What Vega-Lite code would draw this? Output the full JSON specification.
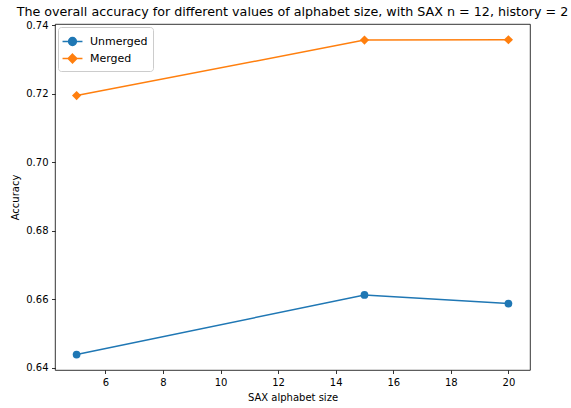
{
  "$schema": "https://vega.github.io/schema/vega-lite/v6.json",
  "width": 475,
  "height": 346,
  "autosize": {"type": "none"},
  "padding": {"left": 55, "top": 24, "right": 41, "bottom": 38},
  "title": {
    "text": "The overall accuracy for different values of alphabet size, with SAX n = 12, history = 2",
    "font": "DejaVu Sans",
    "fontSize": 12.7,
    "fontWeight": "normal",
    "color": "#000000",
    "anchor": "middle",
    "offset": 1
  },
  "data": {
    "values": [
      {"alphabet": 5, "accuracy": 0.6438, "series": "Unmerged"},
      {"alphabet": 15, "accuracy": 0.6612, "series": "Unmerged"},
      {"alphabet": 20, "accuracy": 0.6587, "series": "Unmerged"},
      {"alphabet": 5, "accuracy": 0.7194, "series": "Merged"},
      {"alphabet": 15, "accuracy": 0.7356, "series": "Merged"},
      {"alphabet": 20, "accuracy": 0.7357, "series": "Merged"}
    ]
  },
  "encoding": {
    "x": {
      "field": "alphabet",
      "type": "quantitative",
      "scale": {"domain": [4.25, 20.75], "nice": false, "zero": false},
      "axis": {
        "title": "SAX alphabet size",
        "values": [6, 8, 10, 12, 14, 16, 18, 20],
        "titlePadding": 5
      }
    },
    "y": {
      "field": "accuracy",
      "type": "quantitative",
      "scale": {"domain": [0.6393, 0.7403], "nice": false, "zero": false},
      "axis": {
        "title": "Accuracy",
        "values": [0.64, 0.66, 0.68, 0.70, 0.72, 0.74],
        "format": ".2f",
        "titlePadding": 5
      }
    },
    "color": {
      "field": "series",
      "type": "nominal",
      "scale": {"domain": ["Unmerged", "Merged"], "range": ["#1f77b4", "#ff7f0e"]},
      "legend": {
        "title": null,
        "orient": "top-left",
        "offset": 3,
        "padding": 5,
        "rowPadding": 0,
        "strokeColor": "#cccccc",
        "fillColor": "#ffffff",
        "cornerRadius": 3,
        "symbolSize": 300,
        "symbolStrokeWidth": 1.5,
        "labelFont": "DejaVu Sans",
        "labelFontSize": 11,
        "labelColor": "#000000",
        "labelOffset": 8,
        "encode": {
          "symbols": {
            "update": {
              "shape": {"signal": "datum.value === 'Merged' ? 'M-1.15,0H1.15M0,-0.5L0.5,0L0,0.5L-0.5,0Z' : 'M-1.15,0H1.15M-0.45,0A0.45,0.45 0 1,1 0.45,0A0.45,0.45 0 1,1 -0.45,0Z'"},
              "fillOpacity": {"value": 1}
            }
          }
        }
      }
    }
  },
  "layer": [
    {
      "mark": {"type": "line", "strokeWidth": 1.5}
    },
    {
      "transform": [{"filter": "datum.series === 'Unmerged'"}],
      "mark": {"type": "point", "shape": "circle", "filled": true, "opacity": 1, "size": 60}
    },
    {
      "transform": [{"filter": "datum.series === 'Merged'"}],
      "mark": {"type": "point", "shape": "diamond", "filled": true, "opacity": 1, "size": 85}
    }
  ],
  "config": {
    "font": "DejaVu Sans",
    "view": {"stroke": "#000000", "strokeWidth": 0.8},
    "axis": {
      "grid": false,
      "domain": false,
      "tickColor": "#000000",
      "tickSize": 3.5,
      "tickWidth": 0.8,
      "labelFont": "DejaVu Sans",
      "labelFontSize": 10,
      "labelColor": "#000000",
      "labelPadding": 3.5,
      "titleFont": "DejaVu Sans",
      "titleFontSize": 10,
      "titleFontWeight": "normal",
      "titleColor": "#000000"
    }
  }
}
